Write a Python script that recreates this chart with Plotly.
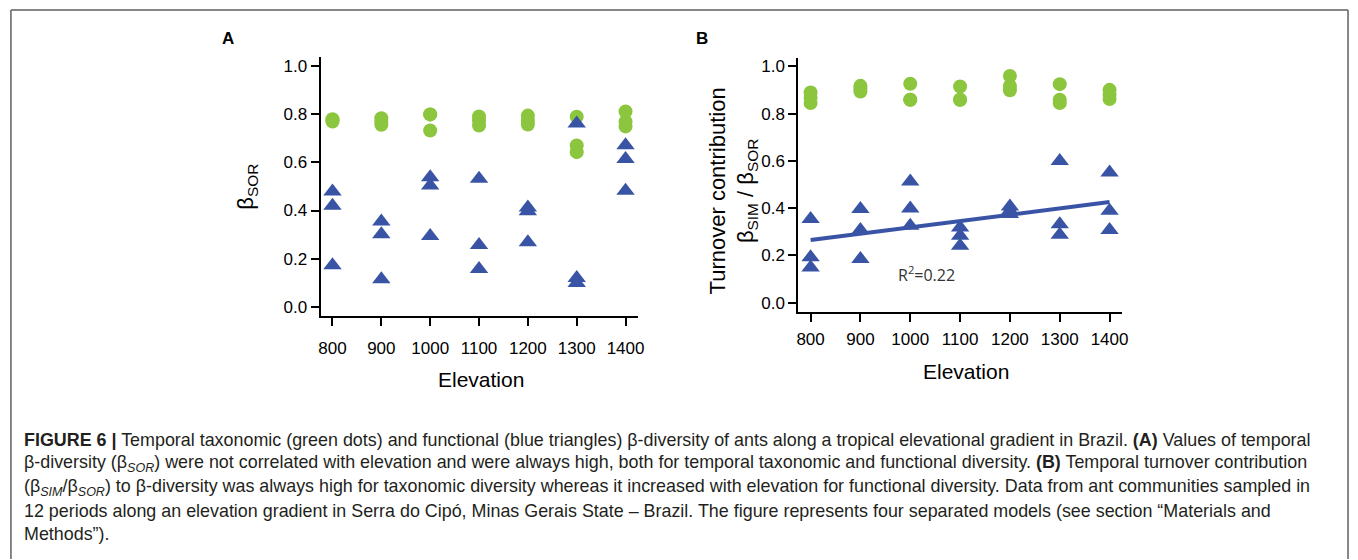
import plotly.graph_objects as go

W, H = 1358, 560

# ---------------- data ----------------
elevations = [800, 900, 1000, 1100, 1200, 1300, 1400]
x_ticks = [800, 900, 1000, 1100, 1200, 1300, 1400]
y_ticks = [0.0, 0.2, 0.4, 0.6, 0.8, 1.0]

# Panel A: beta SOR
a_tax = [[0.780, 0.775, 0.770],
         [0.784, 0.770, 0.757],
         [0.800, 0.800, 0.733],
         [0.791, 0.775, 0.754],
         [0.795, 0.775, 0.758],
         [0.790, 0.671, 0.643],
         [0.812, 0.770, 0.750]]
a_fun = [[0.479, 0.420, 0.172],
         [0.354, 0.301, 0.114],
         [0.538, 0.504, 0.294],
         [0.532, 0.256, 0.156],
         [0.412, 0.397, 0.268],
         [0.762, 0.119, 0.098],
         [0.672, 0.614, 0.482]]

# Panel B: beta SIM / beta SOR
b_tax = [[0.890, 0.867, 0.845],
         [0.918, 0.907, 0.894],
         [0.927, 0.859, 0.859],
         [0.915, 0.859, 0.859],
         [0.960, 0.918, 0.899],
         [0.925, 0.859, 0.845],
         [0.901, 0.880, 0.862]]
b_fun = [[0.354, 0.192, 0.149],
         [0.396, 0.307, 0.185],
         [0.513, 0.399, 0.325],
         [0.318, 0.283, 0.241],
         [0.407, 0.389, 0.375],
         [0.600, 0.332, 0.287],
         [0.551, 0.389, 0.308]]

# fitted line (functional turnover)
fit_x = [800, 1400]
fit_y = [0.265, 0.426]

caption_lines = [
    "<b>FIGURE 6 |</b> Temporal taxonomic (green dots) and functional (blue triangles) β-diversity of ants along a tropical elevational gradient in Brazil. <b>(A)</b> Values of temporal",
    "β-diversity (β<sub><i>SOR</i></sub>) were not correlated with elevation and were always high, both for temporal taxonomic and functional diversity. <b>(B)</b> Temporal turnover contribution",
    "(β<sub><i>SIM</i></sub>/β<sub><i>SOR</i></sub>) to β-diversity was always high for taxonomic diversity whereas it increased with elevation for functional diversity. Data from ant communities sampled in",
    "12 periods along an elevation gradient in Serra do Cipó, Minas Gerais State – Brazil. The figure represents four separated models (see section “Materials and",
    "Methods”).",
]

GREEN = "#8cc63f"
BLUE = "#3a54a5"
FONT = "Liberation Sans, Arial, sans-serif"
CAP_FONT = "Liberation Sans, Arial, sans-serif"


def flat(groups):
    xs, ys = [], []
    for e, vals in zip(elevations, groups):
        for v in vals:
            xs.append(e)
            ys.append(v)
    return xs, ys


def px_x(p):
    return p / W


def px_y(p):
    return 1 - p / H


fig = go.Figure()

for tax, fun, xa, ya in [(a_tax, a_fun, "x", "y"), (b_tax, b_fun, "x2", "y2")]:
    gx, gy = flat(tax)
    fig.add_trace(go.Scatter(x=gx, y=gy, mode="markers", xaxis=xa, yaxis=ya,
                             marker=dict(symbol="circle", size=14, color=GREEN),
                             showlegend=False))
    if xa == "x2":
        fig.add_trace(go.Scatter(x=fit_x, y=fit_y, mode="lines", xaxis=xa, yaxis=ya,
                                 line=dict(color=BLUE, width=4), showlegend=False))
    bx, by = flat(fun)
    fig.add_trace(go.Scatter(x=bx, y=by, mode="markers", xaxis=xa, yaxis=ya,
                             marker=dict(symbol="triangle-up", size=16, color=BLUE),
                             showlegend=False))

axis_common = dict(showgrid=False, zeroline=False, showline=True, linecolor="black",
                   linewidth=2, ticks="outside", ticklen=8, tickwidth=2,
                   tickcolor="black")

fig.update_layout(
    width=W, height=H,
    margin=dict(l=0, r=0, t=0, b=0),
    paper_bgcolor="white", plot_bgcolor="white",
    font=dict(family=FONT, color="black"),
    xaxis=dict(domain=[px_x(320.7), px_x(640)], range=[775.6, 1425],
               tickvals=x_ticks, ticktext=[str(v) for v in x_ticks],
               tickfont=dict(size=17), ticklabelstandoff=8,
               anchor="y", **axis_common),
    yaxis=dict(domain=[px_y(316), px_y(56.7)], range=[-0.0386, 1.0369],
               tickvals=y_ticks, ticktext=[f"{v:.1f}" for v in y_ticks],
               tickfont=dict(size=17), anchor="x", **axis_common),
    xaxis2=dict(domain=[px_x(801.7), px_x(1127.3)], range=[775.5, 1424.6],
                tickvals=x_ticks, ticktext=[str(v) for v in x_ticks],
                tickfont=dict(size=17), ticklabelstandoff=2,
                anchor="y2", **axis_common),
    yaxis2=dict(domain=[px_y(312.3), px_y(57.3)], range=[-0.0405, 1.0354],
                tickvals=y_ticks, ticktext=[f"{v:.1f}" for v in y_ticks],
                tickfont=dict(size=17), anchor="x2", **axis_common),
)

ann = []
# panel letters
ann.append(dict(text="<b>A</b>", x=px_x(228), y=px_y(38), font=dict(size=17)))
ann.append(dict(text="<b>B</b>", x=px_x(705), y=px_y(38), font=dict(size=17)))
# axis titles
ann.append(dict(text="Elevation", x=px_x(481.7), y=px_y(380), font=dict(size=21)))
ann.append(dict(text="Elevation", x=px_x(970), y=px_y(371.7), font=dict(size=21)))
ann.append(dict(text="β<sub>SOR</sub>", x=px_x(247), y=px_y(186), textangle=-90,
                font=dict(size=22)))
ann.append(dict(text="Turnover contribution<br>β<sub>SIM</sub> / β<sub>SOR</sub>",
                x=px_x(736), y=px_y(191), textangle=-90, font=dict(size=22)))
# R2
ann.append(dict(text="R<sup>2</sup>=0.22", x=px_x(931), y=px_y(274),
                font=dict(size=16, family="Open Sans, sans-serif", color="#333333")))
# caption
cap_y = [441, 464.5, 488, 511.5, 535]
for line, yy in zip(caption_lines, cap_y):
    ann.append(dict(text=line, x=px_x(20), y=px_y(yy), xanchor="left",
                    font=dict(size=17.9, color="#231f20", family=CAP_FONT)))

for a in ann:
    a.setdefault("xanchor", "center")
    a.update(xref="paper", yref="paper", yanchor="middle", showarrow=False)
fig.update_layout(annotations=ann)

# frame
frame = dict(type="line", xref="paper", yref="paper",
             line=dict(color="#5f5f5f", width=1.5))
fig.add_shape(x0=px_x(9), x1=px_x(9), y0=px_y(9), y1=0, **frame)
fig.add_shape(x0=px_x(9), x1=px_x(1355), y0=px_y(9), y1=px_y(9), **frame)
fig.add_shape(x0=px_x(1355), x1=px_x(1355), y0=px_y(9), y1=0, **frame)

fig.write_html(
    "out.html",
    config={"displayModeBar": False},
    post_script="document.body.style.margin='0';document.body.style.overflow='hidden';",
)
